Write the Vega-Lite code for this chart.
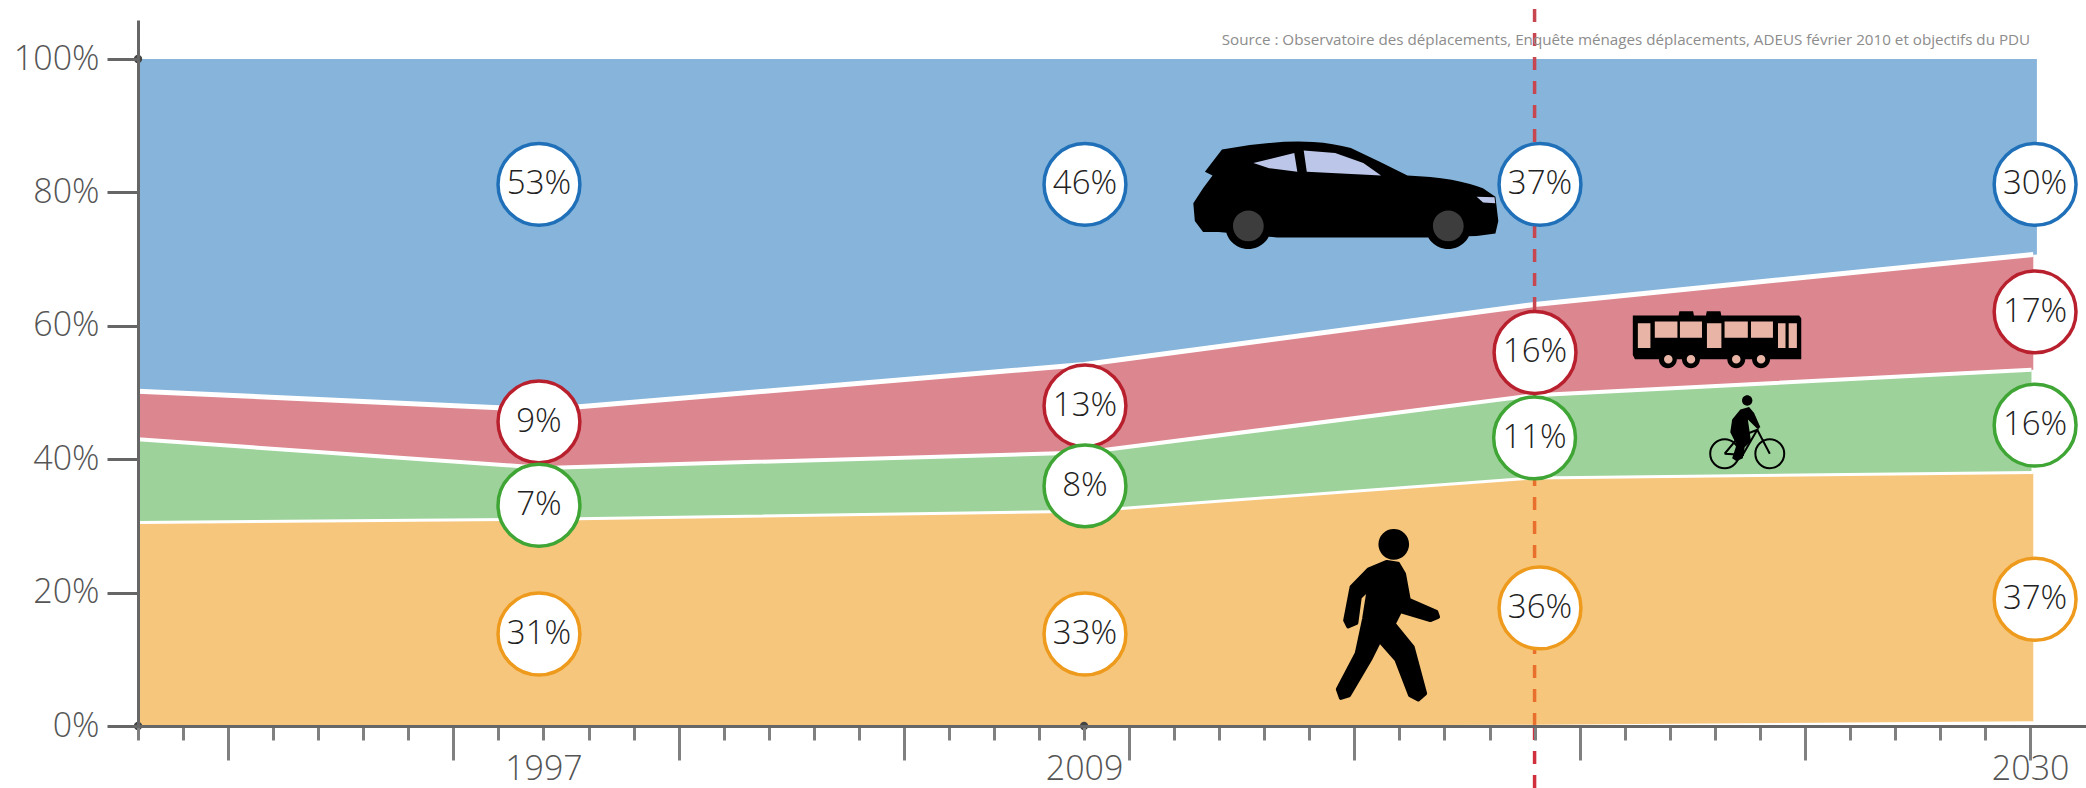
{
"$schema":"https://vega.github.io/schema/vega-lite/v6.json",
"autosize":"none",
"padding":{"left":138,"top":20,"right":0,"bottom":62},
"width":1948,"height":706,
"background":"#ffffff",
"view":{"stroke":null},
"config":{"font":"Open Sans"},
"datasets":{
"bands":[
{"mode":"voiture","year":1988,"low":50.2,"high":100},
{"mode":"voiture","year":1997,"low":47.4,"high":100},
{"mode":"voiture","year":2009,"low":54.2,"high":100},
{"mode":"voiture","year":2019,"low":63.2,"high":100},
{"mode":"voiture","year":2030.15,"low":70.7,"high":100},
{"mode":"bus","year":1988,"low":43,"high":50.2},
{"mode":"bus","year":1997,"low":38.7,"high":47.4},
{"mode":"bus","year":2009,"low":41,"high":54.2},
{"mode":"bus","year":2019,"low":49.6,"high":63.2},
{"mode":"bus","year":2030.07,"low":53.4,"high":70.7},
{"mode":"velo","year":1988,"low":30.5,"high":43},
{"mode":"velo","year":1997,"low":31,"high":38.7},
{"mode":"velo","year":2009,"low":32.2,"high":41},
{"mode":"velo","year":2019,"low":37.2,"high":49.6},
{"mode":"velo","year":2030.03,"low":38,"high":53.4},
{"mode":"marche","year":1988,"low":0,"high":30.5},
{"mode":"marche","year":1997,"low":0,"high":31},
{"mode":"marche","year":2009,"low":0,"high":32.2},
{"mode":"marche","year":2019,"low":0.2,"high":37.2},
{"mode":"marche","year":2030.07,"low":0.7,"high":38}
],
"labels":[
{"mode":"voiture","year":1996.9,"pct":81.2,"label":"53%"},
{"mode":"bus","year":1996.9,"pct":45.6,"label":"9%"},
{"mode":"velo","year":1996.9,"pct":33.1,"label":"7%"},
{"mode":"marche","year":1996.9,"pct":13.8,"label":"31%"},
{"mode":"voiture","year":2009.02,"pct":81.2,"label":"46%"},
{"mode":"bus","year":2009.02,"pct":48,"label":"13%"},
{"mode":"velo","year":2009.02,"pct":36,"label":"8%"},
{"mode":"marche","year":2009.02,"pct":13.8,"label":"33%"},
{"mode":"voiture","year":2019.12,"pct":81.2,"label":"37%"},
{"mode":"bus","year":2019.01,"pct":56,"label":"16%"},
{"mode":"velo","year":2019,"pct":43.2,"label":"11%"},
{"mode":"marche","year":2019.12,"pct":17.7,"label":"36%"},
{"mode":"voiture","year":2030.11,"pct":81.2,"label":"30%"},
{"mode":"bus","year":2030.11,"pct":62.1,"label":"17%"},
{"mode":"velo","year":2030.11,"pct":45.1,"label":"16%"},
{"mode":"marche","year":2030.11,"pct":19,"label":"37%"}
],
"icons":[
{"icon":"car","year":2014.81,"pct":79.5},
{"icon":"bus","year":2023.05,"pct":58.2},
{"icon":"cyclist","year":2023.72,"pct":44.2},
{"icon":"walker","year":2015.75,"pct":16.6}
],
"dots":[
{"year":1988,"pct":100},{"year":1988,"pct":0},{"year":2009,"pct":0}
],
"cut":[
{"part":"haut","year":2019,"from":37.2,"to":108.5},
{"part":"milieu","year":2019,"from":0,"to":37.2},
{"part":"bas","year":2019,"from":-9.3,"to":0}
],
"source":[
{"year":2030,"pct":102.9,"text":"Source : Observatoire des déplacements, Enquête ménages déplacements, ADEUS février 2010 et objectifs du PDU"}
]
},
"encoding":{
"x":{"field":"year","type":"quantitative","title":null,
 "scale":{"domain":[1988,2031.24],"nice":false,"zero":false},
 "axis":{"orient":"bottom","zindex":1,"values":[1988,1989,1990,1991,1992,1993,1994,1995,1996,1997,1998,1999,2000,2001,2002,2003,2004,2005,2006,2007,2008,2009,2010,2011,2012,2013,2014,2015,2016,2017,2018,2019,2020,2021,2022,2023,2024,2025,2026,2027,2028,2029,2030],
  "labels":false,"grid":false,"domainColor":"#666666","domainWidth":3,"tickColor":"#808080","tickWidth":3,
  "tickSize":{"condition":{"test":"datum.value % 5 === 0","value":34},"value":14}}},
"y":{"field":"pct","type":"quantitative","title":null,
 "scale":{"domain":[0,105.85],"nice":false,"zero":false},
 "axis":{"zindex":1,"values":[0,20,40,60,80,100],"grid":false,"domainColor":"#666666","domainWidth":3,"tickColor":"#666666","tickWidth":3,"tickSize":31,
  "labelExpr":"datum.value + '%'","labelFontSize":34,"labelFontWeight":300,"labelColor":"#555555","labelPadding":8}}
},
"resolve":{"axis":{"x":"independent"}},
"layer":[
{"layer":[
{"data":{"name":"bands"},"mark":{"type":"area","line":false},
 "encoding":{"y":{"field":"high","type":"quantitative"},"y2":{"field":"low"},
  "fill":{"field":"mode","type":"nominal","legend":null,"scale":{"domain":["voiture","bus","velo","marche"],"range":["#86b4da","#dc878f","#9dd39a","#f6c67c"]}}}},
{"data":{"name":"bands"},"transform":[{"filter":"datum.mode === 'bus'"}],"mark":{"type":"line","color":"#ffffff","strokeWidth":5},
 "encoding":{"y":{"field":"high","type":"quantitative"}}},
{"data":{"name":"bands"},"transform":[{"filter":"datum.mode === 'velo'"}],"mark":{"type":"line","color":"#ffffff","strokeWidth":4},
 "encoding":{"y":{"field":"high","type":"quantitative"}}},
{"data":{"name":"bands"},"transform":[{"filter":"datum.mode === 'marche'"}],"mark":{"type":"line","color":"#ffffff","strokeWidth":3},
 "encoding":{"y":{"field":"high","type":"quantitative"}}},
{"data":{"name":"cut"},"transform":[{"filter":"datum.part === 'haut'"}],"mark":{"type":"rule","strokeWidth":3.5,"strokeDash":[13,11],"color":"#c8464f"},
 "encoding":{"y":{"field":"from","type":"quantitative"},"y2":{"field":"to"}}},
{"data":{"name":"cut"},"transform":[{"filter":"datum.part === 'milieu'"}],"mark":{"type":"rule","strokeWidth":3.5,"strokeDash":[13,11],"color":"#e8702c"},
 "encoding":{"y":{"field":"from","type":"quantitative"},"y2":{"field":"to"}}},
{"data":{"name":"cut"},"transform":[{"filter":"datum.part === 'bas'"}],"mark":{"type":"rule","strokeWidth":3.5,"strokeDash":[13,11],"color":"#d0303c"},
 "encoding":{"y":{"field":"from","type":"quantitative"},"y2":{"field":"to"}}},
{"data":{"name":"labels"},"mark":{"type":"point","filled":false,"fill":"#ffffff","fillOpacity":1,"opacity":1,"strokeWidth":3.5,"size":6700},
 "encoding":{"stroke":{"field":"mode","type":"nominal","legend":null,"scale":{"domain":["voiture","bus","velo","marche"],"range":["#1f70b8","#b8202e","#3fa535","#ee9a1c"]}}}},
{"data":{"name":"labels"},"mark":{"type":"text","fontSize":33,"fontWeight":300,"color":"#222222"},
 "encoding":{"text":{"field":"label"}}},
{"data":{"name":"source"},"mark":{"type":"text","align":"right","fontSize":15.2,"color":"#8c8c8c"},
 "encoding":{"text":{"field":"text"}}},
{"data":{"name":"icons"},"transform":[{"filter":"datum.icon === 'car'"}],
 "mark":{"type":"point","filled":true,"fill":"#000000","opacity":1,"strokeWidth":0,"size":93025,
 "shape":"M-0.812,-0.303 Q-0.66,-0.335 -0.503,-0.346 Q-0.36,-0.36 -0.214,-0.353 Q-0.08,-0.345 0.033,-0.313 L0.219,-0.224 L0.404,-0.132 Q0.56,-0.125 0.693,-0.105 Q0.82,-0.08 0.899,-0.049 L0.981,0.007 L1,0.165 L0.981,0.247 L0.858,0.264 L0.487,0.273 L-0.449,0.273 L-0.833,0.237 L-0.936,0.237 L-0.99,0.165 L-1,0.049 L-0.936,-0.049 L-0.874,-0.132 L-0.924,-0.158 Z M-0.79,0.198 A0.151,0.151 0 1,1 -0.488,0.198 A0.151,0.151 0 1,1 -0.79,0.198 Z M0.521,0.198 A0.151,0.151 0 1,1 0.823,0.198 A0.151,0.151 0 1,1 0.521,0.198 Z"}},
{"data":{"name":"icons"},"transform":[{"filter":"datum.icon === 'car'"}],
 "mark":{"type":"point","filled":true,"fill":"#3d3d3d","opacity":1,"strokeWidth":0,"size":93025,
 "shape":"M-0.74,0.198 A0.101,0.101 0 1,1 -0.538,0.198 A0.101,0.101 0 1,1 -0.74,0.198 Z M0.571,0.198 A0.101,0.101 0 1,1 0.773,0.198 A0.101,0.101 0 1,1 0.571,0.198 Z"}},
{"data":{"name":"icons"},"transform":[{"filter":"datum.icon === 'car'"}],
 "mark":{"type":"point","filled":true,"fill":"#bcc6e8","opacity":1,"strokeWidth":0,"size":93025,
 "shape":"M-0.606,-0.214 L-0.338,-0.28 L-0.318,-0.158 L-0.503,-0.181 Z M-0.276,-0.297 L-0.07,-0.28 L0.115,-0.214 L0.231,-0.132 L-0.256,-0.158 Z M0.858,0.007 L0.975,0.01 L0.98,0.05 L0.9,0.045 Z"}},
{"data":{"name":"icons"},"transform":[{"filter":"datum.icon === 'bus'"}],
 "mark":{"type":"point","filled":true,"fill":"#000000","opacity":1,"strokeWidth":0,"size":29241,
 "shape":"M-0.985,-0.26 L-0.45,-0.26 L-0.44,-0.31 L-0.28,-0.31 L-0.27,-0.26 L-0.13,-0.26 L-0.12,-0.31 L0.04,-0.31 L0.05,-0.26 L0.96,-0.26 L0.985,-0.23 L0.985,0.25 L0.62,0.25 A0.1,0.1 0 1,1 0.41,0.25 L0.33,0.25 A0.1,0.1 0 1,1 0.12,0.25 L-0.2,0.25 A0.1,0.1 0 1,1 -0.41,0.25 L-0.47,0.25 A0.1,0.1 0 1,1 -0.68,0.25 L-0.96,0.25 L-0.985,0.2 Z"}},
{"data":{"name":"icons"},"transform":[{"filter":"datum.icon === 'bus'"}],
 "mark":{"type":"point","filled":true,"fill":"#e8b4a6","opacity":1,"strokeWidth":0,"size":29241,
 "shape":"M-0.926,-0.17 L-0.779,-0.17 L-0.779,0.12 L-0.926,0.12 Z M-0.728,-0.19 L-0.463,-0.19 L-0.463,0 L-0.728,0 Z M-0.434,-0.19 L-0.176,-0.19 L-0.176,0 L-0.434,0 Z M-0.118,-0.17 L0.051,-0.17 L0.051,0.12 L-0.118,0.12 Z M0.088,-0.19 L0.36,-0.19 L0.36,0 L0.088,0 Z M0.397,-0.19 L0.654,-0.19 L0.654,0 L0.397,0 Z M0.713,-0.17 L0.801,-0.17 L0.801,0.12 L0.713,0.12 Z M0.838,-0.17 L0.934,-0.17 L0.934,0.12 L0.838,0.12 Z M-0.62,0.25 A0.05,0.05 0 1,1 -0.52,0.25 A0.05,0.05 0 1,1 -0.62,0.25 Z M-0.355,0.25 A0.05,0.05 0 1,1 -0.255,0.25 A0.05,0.05 0 1,1 -0.355,0.25 Z M0.175,0.25 A0.05,0.05 0 1,1 0.275,0.25 A0.05,0.05 0 1,1 0.175,0.25 Z M0.465,0.25 A0.05,0.05 0 1,1 0.565,0.25 A0.05,0.05 0 1,1 0.465,0.25 Z"}},
{"data":{"name":"icons"},"transform":[{"filter":"datum.icon === 'cyclist'"}],
 "mark":{"type":"point","filled":false,"fill":"transparent","stroke":"#000000","opacity":1,"strokeWidth":2,"size":5476,
 "shape":"M-1,0.61 A0.39,0.39 0 1,1 -0.22,0.61 A0.39,0.39 0 1,1 -1,0.61 Z M0.22,0.61 A0.39,0.39 0 1,1 1,0.61 A0.39,0.39 0 1,1 0.22,0.61 Z M-0.61,0.61 L-0.237,0.163 L-0.119,0.639 L-0.61,0.61 M-0.237,0.163 L0.271,-0.04 L-0.119,0.639 M0.271,-0.04 L0.61,0.61"}},
{"data":{"name":"icons"},"transform":[{"filter":"datum.icon === 'cyclist'"}],
 "mark":{"type":"point","filled":true,"fill":"#000000","opacity":1,"strokeWidth":0,"size":5476,
 "shape":"M-0.14,-0.83 A0.14,0.14 0 1,1 0.14,-0.83 A0.14,0.14 0 1,1 -0.14,-0.83 Z M-0.186,-0.584 L0.05,-0.652 L0.186,-0.489 L0.356,-0.109 L0.271,-0.068 L0.017,-0.313 L0.102,0.272 L-0.068,0.435 L-0.119,0.734 L-0.288,0.815 L-0.407,0.734 L-0.288,0.367 L-0.458,0.027 L-0.407,-0.313 Z"}},
{"data":{"name":"icons"},"transform":[{"filter":"datum.icon === 'walker'"}],
 "mark":{"type":"point","filled":true,"fill":"#000000","stroke":"#000000","strokeJoin":"round","opacity":1,"strokeWidth":4,"size":29584,
 "shape":"M-0.09,-0.825 A0.155,0.155 0 1,1 0.22,-0.825 A0.155,0.155 0 1,1 -0.09,-0.825 Z M-0.015,-0.62 L0.115,-0.6 L0.185,-0.48 L0.24,-0.18 L0.56,-0.04 L0.58,0.02 L0.49,0.055 L0.14,-0.05 L0.065,0.1 L0.285,0.37 L0.43,0.91 L0.35,0.98 L0.255,0.93 L0.095,0.515 L-0.1,0.295 L-0.21,0.515 L-0.455,0.93 L-0.55,0.96 L-0.585,0.86 L-0.365,0.44 L-0.28,0.041 L-0.224,-0.31 L-0.33,-0.21 L-0.37,0.09 L-0.465,0.13 L-0.5,0.06 L-0.425,-0.33 L-0.224,-0.535 Z"}}
]},
{"data":{"name":"dots"},"mark":{"type":"point","filled":true,"color":"#444444","opacity":1,"size":70},
 "encoding":{"x":{"field":"year","type":"quantitative","title":null,
  "axis":{"orient":"bottom","zindex":1,"values":[1997,2009,2030],"format":"d","domain":false,"ticks":false,"grid":false,"labelOverlap":false,"labelFlush":false,"labelFontSize":34,"labelFontWeight":300,"labelColor":"#555555","labelPadding":43,"labelBaseline":"middle"}}}}
]
}
